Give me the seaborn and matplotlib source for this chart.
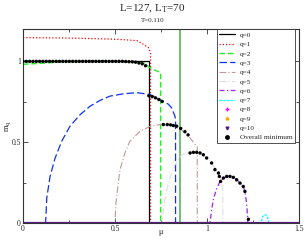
import numpy as np
import pandas as pd
import matplotlib
matplotlib.use("Agg")
import matplotlib.pyplot as plt
from matplotlib.lines import Line2D
from matplotlib.ticker import MultipleLocator
import seaborn as sns

# ---------------- data ----------------
title = "L=127, L$_\\mathregular{T}$=70"
subtitle = "T=0.110"

q0_mu = [0.0, 0.685, 0.685, 1.5]
q0_m = [1.0, 1.0, 0.0, 0.0]

q1_mu = [0.0, 0.1, 0.2, 0.3, 0.4, 0.47, 0.55, 0.62, 0.652, 0.68, 0.693, 0.693, 1.5]
q1_m = [1.147, 1.146, 1.145, 1.143, 1.14, 1.138, 1.134, 1.128, 1.107, 1.087, 1.056, 0.0, 0.0]

q2_mu = [0.0, 0.05, 0.1, 0.2, 0.3, 0.5, 0.66, 0.681, 0.705, 0.725, 0.748, 0.748, 1.5]
q2_m = [0.982, 0.985, 0.988, 0.996, 0.999, 1.0, 0.99, 0.967, 0.952, 0.942, 0.93, 0.0, 0.0]

q3_mu = [0.0, 0.123, 0.129, 0.147, 0.174, 0.21, 0.255, 0.31, 0.364, 0.418, 0.473,
         0.55, 0.62, 0.69, 0.745, 0.79, 0.808, 0.826, 0.829, 0.829, 1.5]
q3_m = [0.0, 0.0, 0.153, 0.288, 0.40, 0.505, 0.598, 0.67, 0.722, 0.758, 0.785,
        0.80, 0.806, 0.795, 0.762, 0.735, 0.712, 0.66, 0.64, 0.0, 0.0]

q4_mu = [0.0, 0.5, 0.505, 0.515, 0.527, 0.554, 0.58, 0.636, 0.69, 0.745, 0.80,
         0.85, 0.89, 0.926, 0.947, 0.947, 1.5]
q4_m = [0.0, 0.0, 0.12, 0.22, 0.33, 0.433, 0.505, 0.567, 0.598, 0.609, 0.605,
        0.585, 0.55, 0.50, 0.47, 0.0, 0.0]

q5_mu = [0.0, 0.755, 0.765, 0.78, 0.80, 0.826, 0.862, 0.90, 0.93, 0.96, 0.99,
         1.02, 1.05, 1.07, 1.08, 1.086, 1.086, 1.5]
q5_m = [0.0, 0.0, 0.10, 0.20, 0.28, 0.36, 0.42, 0.437, 0.44, 0.435, 0.41,
        0.38, 0.33, 0.28, 0.24, 0.20, 0.0, 0.0]

q6_mu = [0.0, 1.016, 1.025, 1.034, 1.05, 1.07, 1.09, 1.107, 1.125, 1.143, 1.16,
         1.18, 1.197, 1.207, 1.215, 1.22, 1.222, 1.5]
q6_m = [0.0, 0.0, 0.08, 0.143, 0.205, 0.256, 0.278, 0.288, 0.29, 0.285, 0.27,
        0.248, 0.226, 0.19, 0.12, 0.05, 0.0, 0.0]

q7_mu = [0.0, 1.295, 1.30, 1.31, 1.32, 1.33, 1.335, 1.5]
q7_m = [0.0, 0.0, 0.035, 0.05, 0.05, 0.035, 0.0, 0.0]

q8_mu = [0.0, 1.5]
q8_m = [0.0, 0.0]
q9_mu = [0.0, 1.5]
q9_m = [0.0, 0.0]
q10_mu = [0.0, 1.5]
q10_m = [0.0, 0.0]

min_mu = [0.0, 0.018, 0.036, 0.054, 0.072, 0.09, 0.108, 0.126, 0.144, 0.162,
          0.18, 0.198, 0.216, 0.234, 0.252, 0.27, 0.288, 0.306, 0.324, 0.342,
          0.36, 0.378, 0.396, 0.414, 0.432, 0.45, 0.468, 0.486, 0.504, 0.522,
          0.54, 0.558, 0.576, 0.594, 0.612, 0.63, 0.648, 0.666,
          0.684, 0.702, 0.72, 0.738, 0.756,
          0.763, 0.784, 0.802, 0.817, 0.835, 0.857, 0.88, 0.897,
          0.908, 0.926, 0.944, 0.962, 0.98, 0.998, 1.025, 1.043, 1.062, 1.067, 1.074,
          1.089, 1.107, 1.125, 1.143, 1.161, 1.179, 1.197, 1.206, 1.225]
min_m = [1.0, 1.0, 1.0, 1.0, 1.0, 1.0, 1.0, 1.0, 1.0, 1.0,
         1.0, 1.0, 1.0, 1.0, 1.0, 1.0, 1.0, 1.0, 1.0, 1.0,
         1.0, 1.0, 1.0, 1.0, 1.0, 1.0, 1.0, 1.0, 1.0, 1.0,
         1.0, 0.999, 0.998, 0.997, 0.995, 0.99, 0.985, 0.973,
         0.787, 0.782, 0.774, 0.764, 0.752,
         0.609, 0.609, 0.607, 0.603, 0.599, 0.585, 0.565, 0.545,
         0.433, 0.437, 0.437, 0.433, 0.422, 0.402, 0.371, 0.33, 0.309, 0.288, 0.257,
         0.278, 0.288, 0.288, 0.282, 0.267, 0.247, 0.226, 0.195, 0.023]

green_line_mu = 0.853

x_ticks = [0, 0.5, 1, 1.5]
x_ticklabels = ["0", "0.5", "1", "1.5"]
y_ticks = [0, 0.5, 1]
y_ticklabels = ["0", "0.5", "1"]

# ---------------- style ----------------
sns.set_theme(style="ticks")
plt.rcParams["font.family"] = ["Liberation Serif", "DejaVu Serif"]
plt.rcParams["mathtext.fontset"] = "stix"

fig = plt.figure(figsize=(3.05, 2.4), dpi=100)
ax = fig.add_axes([0.0754, 0.071, 0.905, 0.808])

series = [
    ("q=0", q0_mu, q0_m, "black", "-", 0.9),
    ("q=1", q1_mu, q1_m, "red", (0, (1, 1.6)), 0.9),
    ("q=2", q2_mu, q2_m, "#22ee22", (0, (4, 2)), 1.0),
    ("q=3", q3_mu, q3_m, "#1030ee", (0, (6, 2.5)), 0.9),
    ("q=4", q4_mu, q4_m, "#c09898", (0, (6, 2, 1, 2)), 0.8),
    ("q=5", q5_mu, q5_m, "#dcdcdc", (0, (6, 2, 1, 2)), 0.8),
    ("q=6", q6_mu, q6_m, "#a020f0", (0, (4, 2, 1, 2)), 0.9),
    ("q=7", q7_mu, q7_m, "cyan", (0, (2, 1)), 0.9),
]
for name, xs, ys, col, ls, lw in series:
    df = pd.DataFrame({"mu": xs, "m": ys})
    sns.lineplot(data=df, x="mu", y="m", ax=ax, color=col, linestyle=ls,
                 linewidth=lw, estimator=None, sort=False, legend=False)

for xs, ys, col, lw in [(q8_mu, q8_m, "magenta", 2.0), (q9_mu, q9_m, "orange", 1.8),
                        (q10_mu, q10_m, "#5a1a8a", 1.6)]:
    df = pd.DataFrame({"mu": xs, "m": ys})
    sns.lineplot(data=df, x="mu", y="m", ax=ax, color=col, linewidth=lw,
                 estimator=None, sort=False, legend=False)

ax.axvline(green_line_mu, color="#66bb66", linewidth=1.3, zorder=1)

dfm = pd.DataFrame({"mu": min_mu, "m": min_m})
sns.scatterplot(data=dfm, x="mu", y="m", ax=ax, color="black", s=6,
                edgecolor="none", zorder=5, legend=False)

ax.set_xlim(0, 1.5)
ax.set_ylim(0, 1.2)
ax.set_xticks(x_ticks)
ax.set_xticklabels(x_ticklabels)
ax.set_yticks(y_ticks)
ax.set_yticklabels(y_ticklabels)
ax.xaxis.set_minor_locator(MultipleLocator(0.25))
ax.yaxis.set_minor_locator(MultipleLocator(0.25))
ax.tick_params(which="both", direction="in", top=True, right=True,
               labelsize=5.5, pad=1.5, width=0.6, color="#333333")
ax.tick_params(which="major", length=3.5)
ax.tick_params(which="minor", length=2)
for sp in ax.spines.values():
    sp.set_linewidth(0.8)
    sp.set_color("#333333")

ax.set_xlabel("μ", fontsize=6)
ax.xaxis.set_label_coords(0.5, -0.028)
ax.set_ylabel("m$_\\mathregular{q}$", fontsize=6)
ax.yaxis.set_label_coords(-0.038, 0.5)

fig.text(0.5, 0.965, title, ha="center", va="center", fontsize=8)
fig.text(0.5, 0.915, subtitle, ha="center", va="center", fontsize=5)

handles = []
for name, xs, ys, col, ls, lw in series:
    handles.append(Line2D([], [], color=col, linestyle=ls, linewidth=lw, label=name))
handles.append(Line2D([], [], color="magenta", marker="+", markersize=2.5, linestyle="none", label="q=8"))
handles.append(Line2D([], [], color="orange", marker="^", markersize=2, linestyle="none", label="q=9"))
handles.append(Line2D([], [], color="#5a1a8a", marker="v", markersize=2, linestyle="none", label="q=10"))
handles.append(Line2D([], [], color="black", marker="o", markersize=2.5, linestyle="none", label="Overall minimum"))

leg = ax.legend(handles=handles, loc="upper right", bbox_to_anchor=(0.986, 1.0),
                fontsize=5.2, frameon=True, fancybox=False, framealpha=1,
                edgecolor="#333333", borderpad=0.4, labelspacing=0.45,
                handlelength=2.2, handletextpad=0.6, borderaxespad=0)
leg.get_frame().set_linewidth(0.6)

fig.savefig("out.png", dpi=100)
